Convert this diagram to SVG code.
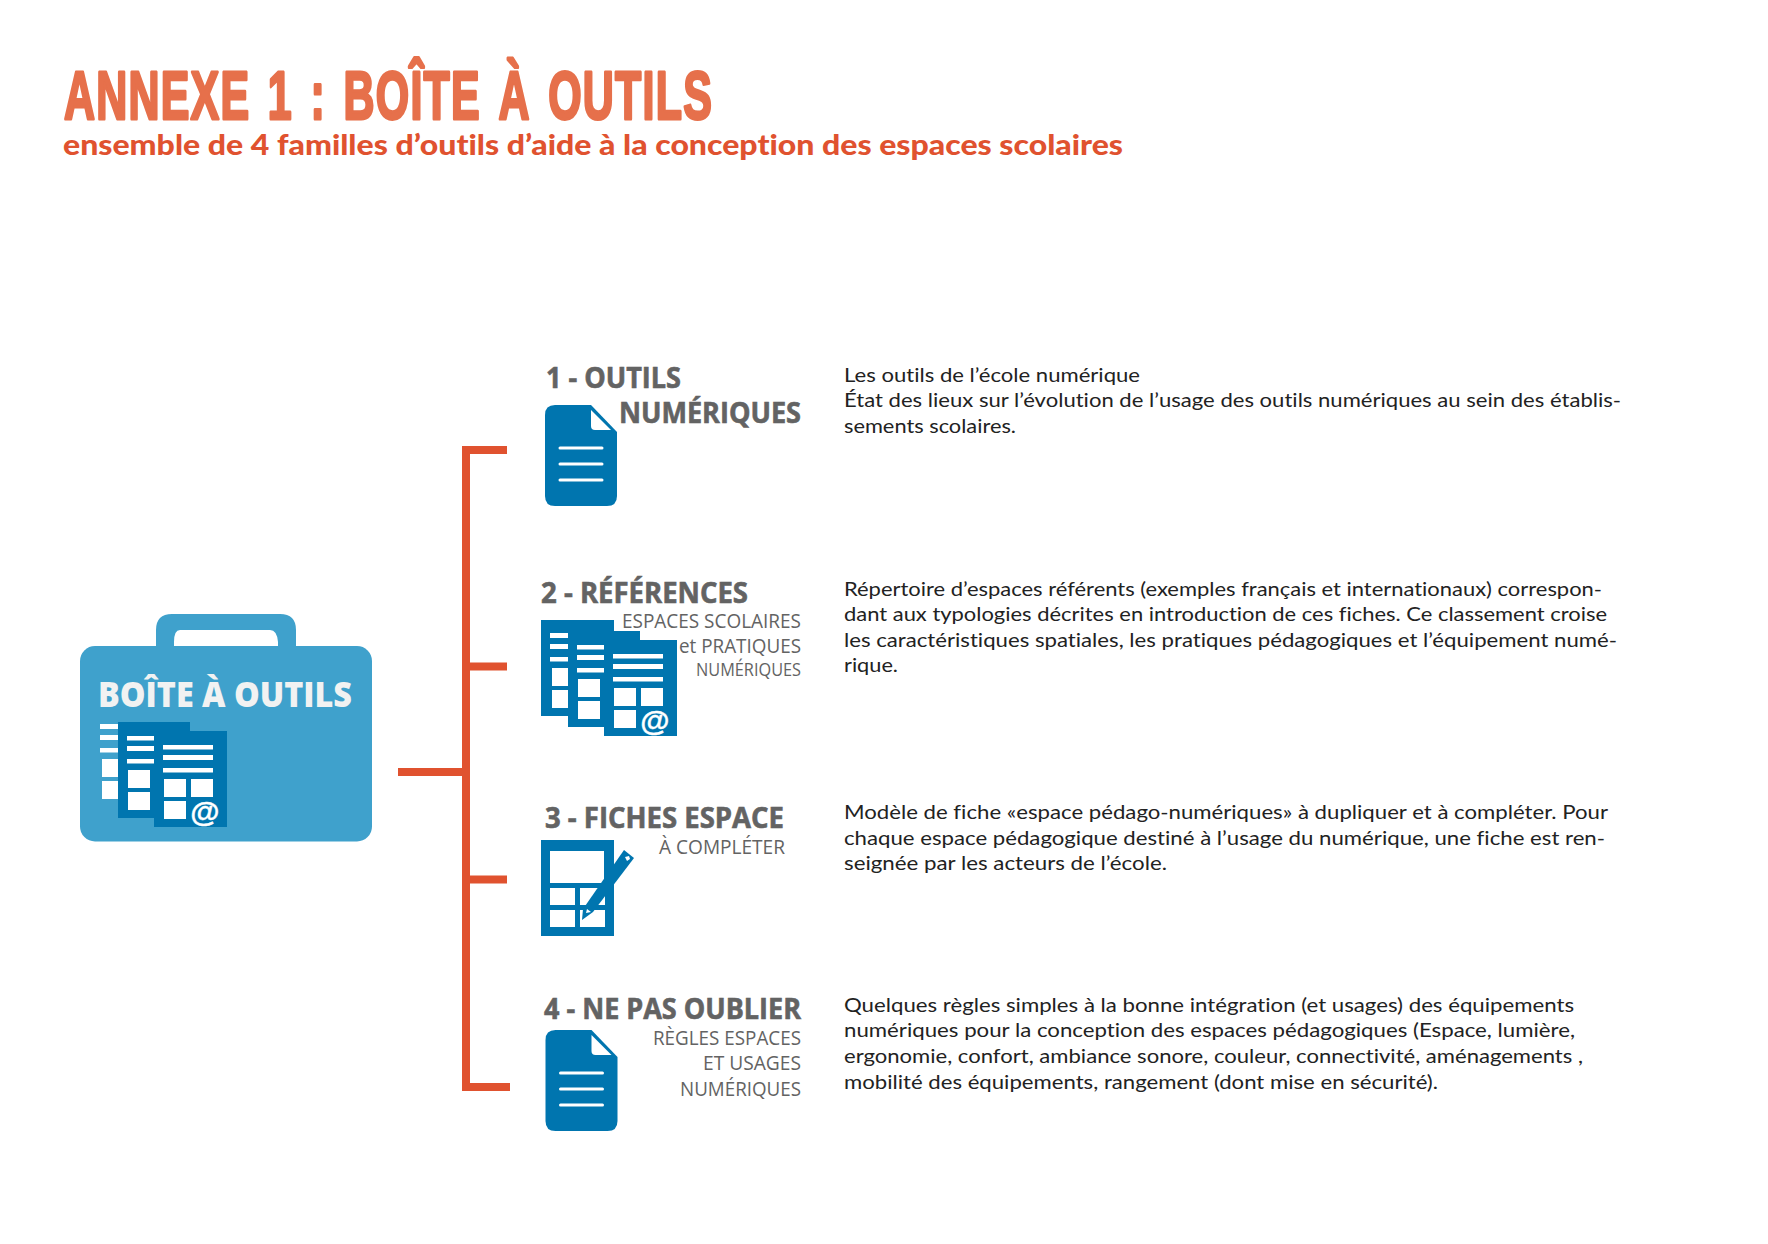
<svg xmlns="http://www.w3.org/2000/svg" xmlns:xlink="http://www.w3.org/1999/xlink" width="1768" height="1244" viewBox="0 0 1768 1244">
<style>
text{font-family:"Open Sans","Liberation Sans",sans-serif;font-variant-ligatures:none}
.title{font-family:"Liberation Sans",sans-serif;font-weight:700;font-size:69px;fill:#E6704B;stroke:#E6704B;stroke-width:3px;stroke-linejoin:round;letter-spacing:2px;word-spacing:7px}
.sub{font-family:Lato,"Liberation Sans",sans-serif;font-weight:900;font-size:29px;fill:#E0522F}
.h{font-weight:700;font-size:28px;fill:#636363;stroke:#636363;stroke-width:.6px}
.s{font-size:20px;fill:#636363}
.s2{font-size:17.5px;fill:#636363}
.b{font-family:Lato,"Liberation Sans",sans-serif;font-size:20px;fill:#222222}
.blue{fill:#0075AF}
.w{fill:#FFFFFF}
.wl{stroke:#FFFFFF;stroke-width:3;stroke-linecap:round;fill:none}
.at{font-family:"Liberation Sans",sans-serif;font-weight:700;font-size:30px;fill:#FFFFFF;text-anchor:middle;stroke:#FFFFFF;stroke-width:.4px}
.conn{stroke:#E0522F;stroke-width:8;fill:none}
</style>
<defs>
<g id="doc">
<path class="blue" d="M10 0H46L72 27V91Q72 101 62 101H10Q0 101 0 91V10Q0 0 10 0Z"/>
<path class="w" d="M46 5L66 25H50Q46 25 46 21Z"/>
<path class="wl" d="M15 43H57M15 59H57M15 75H57"/>
</g>
<g id="sheet1w">
<rect class="w" x="550" y="633" width="18" height="5"/>
<rect class="w" x="550" y="644" width="18" height="5"/>
<rect class="w" x="550" y="657" width="18" height="4.500"/>
<rect class="w" x="552" y="668" width="16" height="18"/>
<rect class="w" x="552" y="690" width="16" height="18"/>
</g>
<g id="sheets23">
<path class="blue" d="M568 631H640V640H604V727H568Z"/>
<rect class="w" x="577" y="645" width="27" height="4.500"/>
<rect class="w" x="577" y="655" width="27" height="5"/>
<rect class="w" x="577" y="668" width="27" height="4.500"/>
<rect class="w" x="578" y="679" width="22" height="18"/>
<rect class="w" x="578" y="701" width="22" height="18"/>
<rect class="blue" x="604" y="640" width="73" height="96"/>
<rect class="w" x="613" y="654" width="50" height="4.500"/>
<rect class="w" x="613" y="664" width="50" height="5"/>
<rect class="w" x="613" y="677" width="50" height="4.500"/>
<rect class="w" x="614" y="688" width="22" height="18"/>
<rect class="w" x="641" y="688" width="22" height="18"/>
<rect class="w" x="614" y="710" width="22" height="18"/>
<text class="at" x="655" y="731">@</text>
</g>
</defs>

<g id="title">
<text class="title" x="64" y="119" textLength="649" lengthAdjust="spacingAndGlyphs">ANNEXE 1 : BOÎTE À OUTILS</text>
<text class="sub" x="63" y="155" textLength="1060" lengthAdjust="spacingAndGlyphs">ensemble de 4 familles d’outils d’aide à la conception des espaces scolaires</text>
</g>

<g id="connectors">
<path class="conn" d="M398 772H466"/>
<path class="conn" d="M466 1087V450"/>
<path class="conn" d="M462 450H507M466 666.500H507M466 879.500H507M462 1087H510"/>
</g>

<g id="boite">
<path fill="#3FA1CC" fill-rule="evenodd" d="M156 650V630Q156 614 172 614H280Q296 614 296 630V650H278V642Q277 630 270 630H180Q174 630 174 642V650Z"/>
<rect x="80" y="646" width="292" height="195.500" rx="15" fill="#3FA1CC"/>
<text x="98" y="707" font-size="35" font-weight="800" fill="#F1F2F2" textLength="254" lengthAdjust="spacingAndGlyphs">BOÎTE À OUTILS</text>
<use xlink:href="#sheet1w" href="#sheet1w" transform="translate(-450 91)"/>
<use xlink:href="#sheets23" href="#sheets23" transform="translate(-450 91)"/>
</g>

<g id="famille1">
<use xlink:href="#doc" href="#doc" x="545" y="405"/>
<text class="h" x="546" y="388" textLength="135" lengthAdjust="spacingAndGlyphs">1 - OUTILS</text>
<text class="h" x="619" y="423" textLength="182" lengthAdjust="spacingAndGlyphs">NUMÉRIQUES</text>
<text class="b" x="844" y="382" textLength="296" lengthAdjust="spacingAndGlyphs">Les outils de l’école numérique</text>
<text class="b" x="844" y="407" textLength="777" lengthAdjust="spacingAndGlyphs">État des lieux sur l’évolution de l’usage des outils numériques au sein des établis-</text>
<text class="b" x="844" y="432.500" textLength="172" lengthAdjust="spacingAndGlyphs">sements scolaires.</text>
</g>

<g id="famille2">
<rect class="blue" x="541" y="620" width="73" height="96"/>
<use xlink:href="#sheet1w" href="#sheet1w"/>
<use xlink:href="#sheets23" href="#sheets23"/>
<text class="h" x="541" y="603" textLength="207" lengthAdjust="spacingAndGlyphs">2 - RÉFÉRENCES</text>
<text class="s" x="622" y="628" textLength="179" lengthAdjust="spacingAndGlyphs">ESPACES SCOLAIRES</text>
<text class="s" x="679" y="653" textLength="122" lengthAdjust="spacingAndGlyphs">et PRATIQUES</text>
<text class="s2" x="696" y="676" textLength="105" lengthAdjust="spacingAndGlyphs">NUMÉRIQUES</text>
<text class="b" x="844" y="596" textLength="758" lengthAdjust="spacingAndGlyphs">Répertoire d’espaces référents (exemples français et internationaux) correspon-</text>
<text class="b" x="844" y="621" textLength="763" lengthAdjust="spacingAndGlyphs">dant aux typologies décrites en introduction de ces fiches. Ce classement croise</text>
<text class="b" x="844" y="647" textLength="773" lengthAdjust="spacingAndGlyphs">les caractéristiques spatiales, les pratiques pédagogiques et l’équipement numé-</text>
<text class="b" x="844" y="672" textLength="54" lengthAdjust="spacingAndGlyphs">rique.</text>
</g>

<g id="famille3">
<rect class="blue" x="541" y="840" width="73" height="96"/>
<rect class="w" x="550" y="851" width="54" height="32"/>
<rect class="w" x="550" y="888" width="25" height="17"/>
<rect class="w" x="580" y="888" width="25" height="17"/>
<rect class="w" x="550" y="910" width="25" height="17"/>
<rect class="w" x="580" y="910" width="25" height="17"/>
<path class="blue" d="M624 850L634 858L593 912L582 920L583 909Z"/>
<path class="w" d="M586 913L587 909L591 912Z"/>
<path class="w" d="M625 857L629 856L630 859L627 861Z"/>
<text class="h" x="545" y="828" textLength="239" lengthAdjust="spacingAndGlyphs">3 - FICHES ESPACE</text>
<text class="s" x="659" y="854" textLength="126" lengthAdjust="spacingAndGlyphs">À COMPLÉTER</text>
<text class="b" x="844" y="819" textLength="764" lengthAdjust="spacingAndGlyphs">Modèle de fiche «espace pédago-numériques» à dupliquer et à compléter. Pour</text>
<text class="b" x="844" y="844.500" textLength="761" lengthAdjust="spacingAndGlyphs">chaque espace pédagogique destiné à l’usage du numérique, une fiche est ren-</text>
<text class="b" x="844" y="870" textLength="323" lengthAdjust="spacingAndGlyphs">seignée par les acteurs de l’école.</text>
</g>

<g id="famille4">
<use xlink:href="#doc" href="#doc" x="545.500" y="1030"/>
<text class="h" x="544" y="1019" textLength="257" lengthAdjust="spacingAndGlyphs">4 - NE PAS OUBLIER</text>
<text class="s" x="653" y="1044.500" textLength="148" lengthAdjust="spacingAndGlyphs">RÈGLES ESPACES</text>
<text class="s" x="703" y="1069.500" textLength="98" lengthAdjust="spacingAndGlyphs">ET USAGES</text>
<text class="s" x="680" y="1096" textLength="121" lengthAdjust="spacingAndGlyphs">NUMÉRIQUES</text>
<text class="b" x="844" y="1012" textLength="730" lengthAdjust="spacingAndGlyphs">Quelques règles simples à la bonne intégration (et usages) des équipements</text>
<text class="b" x="844" y="1037" textLength="731" lengthAdjust="spacingAndGlyphs">numériques pour la conception des espaces pédagogiques (Espace, lumière,</text>
<text class="b" x="844" y="1063" textLength="739" lengthAdjust="spacingAndGlyphs">ergonomie, confort, ambiance sonore, couleur, connectivité, aménagements ,</text>
<text class="b" x="844" y="1089" textLength="594" lengthAdjust="spacingAndGlyphs">mobilité des équipements, rangement (dont mise en sécurité).</text>
</g>
</svg>
